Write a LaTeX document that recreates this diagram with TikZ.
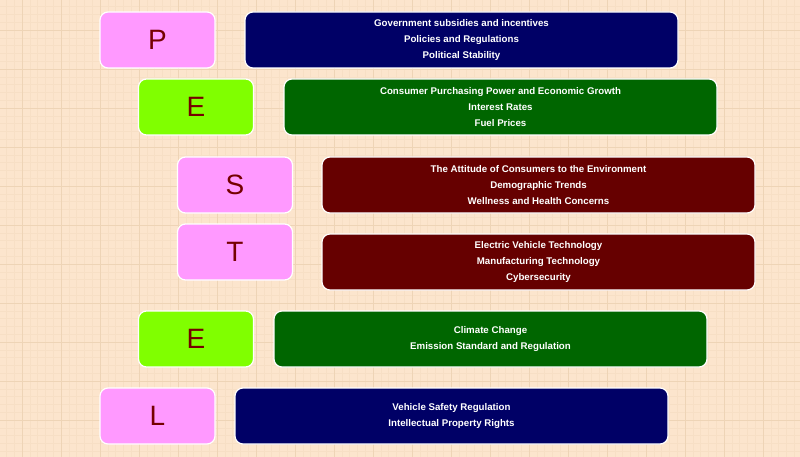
\documentclass[tikz,border=0pt]{standalone}
\usepackage{fontspec}
\setmainfont{Liberation Sans}
\definecolor{paper}{HTML}{FCE5CD}
\definecolor{gridminor}{HTML}{F7DFC5}
\definecolor{gridmajor}{HTML}{EED4B6}
\definecolor{pinkbg}{HTML}{FF99FF}
\definecolor{limebg}{HTML}{80FF00}
\definecolor{letterred}{HTML}{750000}
\definecolor{navybg}{HTML}{000066}
\definecolor{greenbg}{HTML}{006600}
\definecolor{redbg}{HTML}{660000}
\begin{document}
\begin{tikzpicture}[x=1pt, y=-1pt,
    letter/.style = {draw=white, line width=1.2pt, rounded corners=8pt, minimum width=115pt,
                     minimum height=56pt, text=letterred, font=\fontsize{28}{30}\selectfont},
    factors/.style = {draw=white, line width=1.2pt, rounded corners=8pt, minimum width=433pt,
                      minimum height=56pt, text=white, align=center,
                      font=\bfseries\fontsize{9.7}{16.3}\selectfont}]
            \fill[paper] (0,0) rectangle (800,457);
            \useasboundingbox (0,0) rectangle (800,457);
            \foreach \gx in {0,7.8,...,800} \draw[gridminor, line width=0.4pt] (\gx+6.4,0) -- (\gx+6.4,457);
            \foreach \gy in {0,7.8,...,457} \draw[gridminor, line width=0.4pt] (0,\gy+6.6) -- (800,\gy+6.6);
            \foreach \gx in {22,61,...,800} \draw[gridmajor, line width=0.6pt] (\gx,0) -- (\gx,457);
            \foreach \gy in {30,69,...,457} \draw[gridmajor, line width=0.6pt] (0,\gy) -- (800,\gy);

            \node[letter, fill=pinkbg] (p)  at (157.5,40)  {P};
            \node[letter, fill=limebg] (e1) at (196,107)   {E};
            \node[letter, fill=pinkbg] (s)  at (235,185)   {S};
            \node[letter, fill=pinkbg] (t)  at (235,252)   {T};
            \node[letter, fill=limebg] (e2) at (196,339)   {E};
            \node[letter, fill=pinkbg] (l)  at (157.5,416) {L};

            \node[factors, fill=navybg]  (pbox)  at (461.5,40)  {Government subsidies and incentives\\Policies and Regulations\\Political Stability};
            \node[factors, fill=greenbg] (e1box) at (500.5,107) {Consumer Purchasing Power and Economic Growth\\Interest Rates\\Fuel Prices};
            \node[factors, fill=redbg]   (sbox)  at (538.5,185) {The Attitude of Consumers to the Environment\\Demographic Trends\\Wellness and Health Concerns};
            \node[factors, fill=redbg]   (tbox)  at (538.5,262) {Electric Vehicle Technology\\Manufacturing Technology\\Cybersecurity};
            \node[factors, fill=greenbg] (e2box) at (490.5,339) {Climate Change\\Emission Standard and Regulation};
            \node[factors, fill=navybg]  (lbox)  at (451.5,416) {Vehicle Safety Regulation\\Intellectual Property Rights};
        \end{tikzpicture}
\end{document}
